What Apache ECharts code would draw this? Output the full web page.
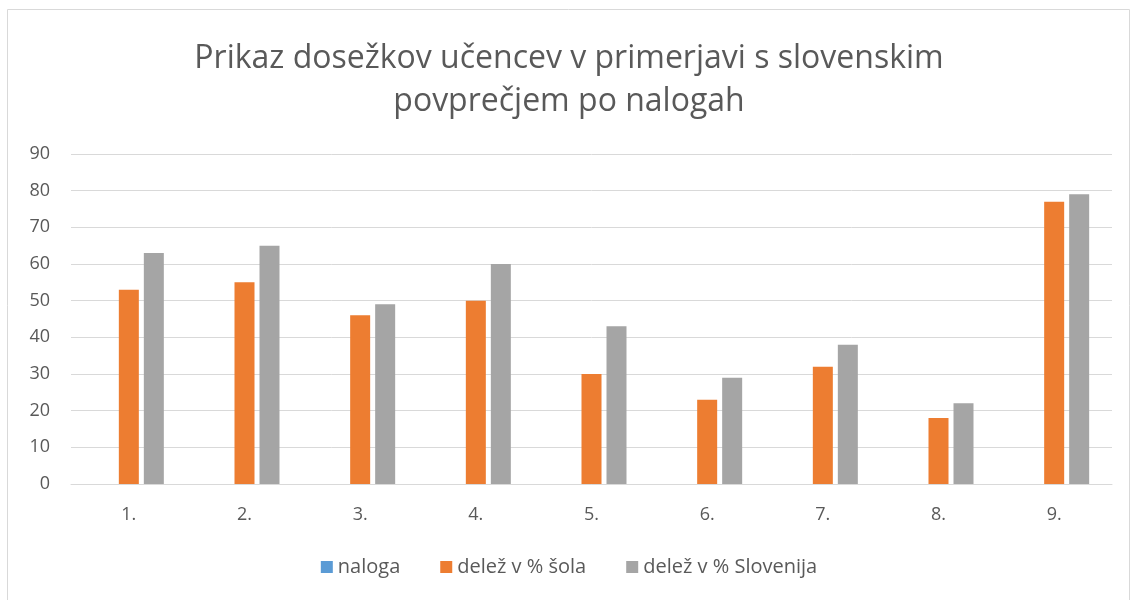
<!DOCTYPE html>
<html>
<head>
<meta charset="utf-8">
<script src="https://cdn.jsdelivr.net/npm/echarts@6/dist/echarts.min.js"></script>
<style>
  html, body { margin: 0; padding: 0; background: #fff; }
  #chartBox { width: 1138px; height: 600px; }
</style>
</head>
<body>
<div id="chartBox"></div>
<script>
var categories = ['1.', '2.', '3.', '4.', '5.', '6.', '7.', '8.', '9.']
// naloga has no visible bars, only a reserved slot
var naloga = ['-', '-', '-', '-', '-', '-', '-', '-', '-']
var delezSola = [53, 55, 46, 50, 30, 23, 32, 18, 77]
var delezSlovenija = [63, 65, 49, 60, 43, 29, 38, 22, 79]

var font = '"Open Sans", "Liberation Sans", sans-serif'
var textColor = '#595959'

var myChart = echarts.init(document.getElementById('chartBox'))
myChart.setOption({
  textStyle: { fontFamily: font },
  graphic: [{
    type: 'rect',
    shape: { x: 7.5, y: 9.5, width: 1122, height: 600 },
    style: { fill: 'none', stroke: '#d9d9d9', lineWidth: 1 },
    silent: true
  }],
  title: {
    text: 'Prikaz dosežkov učencev v primerjavi s slovenskim\npovprečjem po nalogah',
    left: 'center',
    top: 32,
    textStyle: {
      fontFamily: font,
      fontSize: 32,
      fontWeight: 'normal',
      color: textColor,
      lineHeight: 43
    }
  },
  legend: {
    bottom: 18,
    left: 'center',
    itemWidth: 12,
    itemHeight: 12,
    itemGap: 40,
    itemStyle: { borderWidth: 0 },
    icon: 'rect',
    textStyle: { fontFamily: font, fontSize: 20, color: textColor },
    data: ['naloga', 'delež v % šola', 'delež v % Slovenija']
  },
  grid: {
    left: 71,
    right: 26,
    top: 154,
    bottom: 116
  },
  xAxis: {
    type: 'category',
    data: categories,
    axisTick: { show: false },
    axisLine: { lineStyle: { color: '#d9d9d9', width: 1 } },
    axisLabel: { fontFamily: font, fontSize: 18, color: textColor, margin: 22 }
  },
  yAxis: {
    type: 'value',
    min: 0,
    max: 90,
    interval: 10,
    axisLine: { show: false },
    axisTick: { show: false },
    splitLine: { lineStyle: { color: '#d9d9d9', width: 1 } },
    axisLabel: { fontFamily: font, fontSize: 18, color: textColor, margin: 21 }
  },
  series: [
    {
      name: 'naloga',
      type: 'bar',
      barWidth: 20,
      barGap: '25%',
      itemStyle: { color: '#5b9bd5' },
      data: naloga
    },
    {
      name: 'delež v % šola',
      type: 'bar',
      barWidth: 20,
      barGap: '25%',
      itemStyle: { color: '#ed7d31' },
      data: delezSola
    },
    {
      name: 'delež v % Slovenija',
      type: 'bar',
      barWidth: 20,
      barGap: '25%',
      itemStyle: { color: '#a5a5a5' },
      data: delezSlovenija
    }
  ]
})
</script>
</body>
</html>
